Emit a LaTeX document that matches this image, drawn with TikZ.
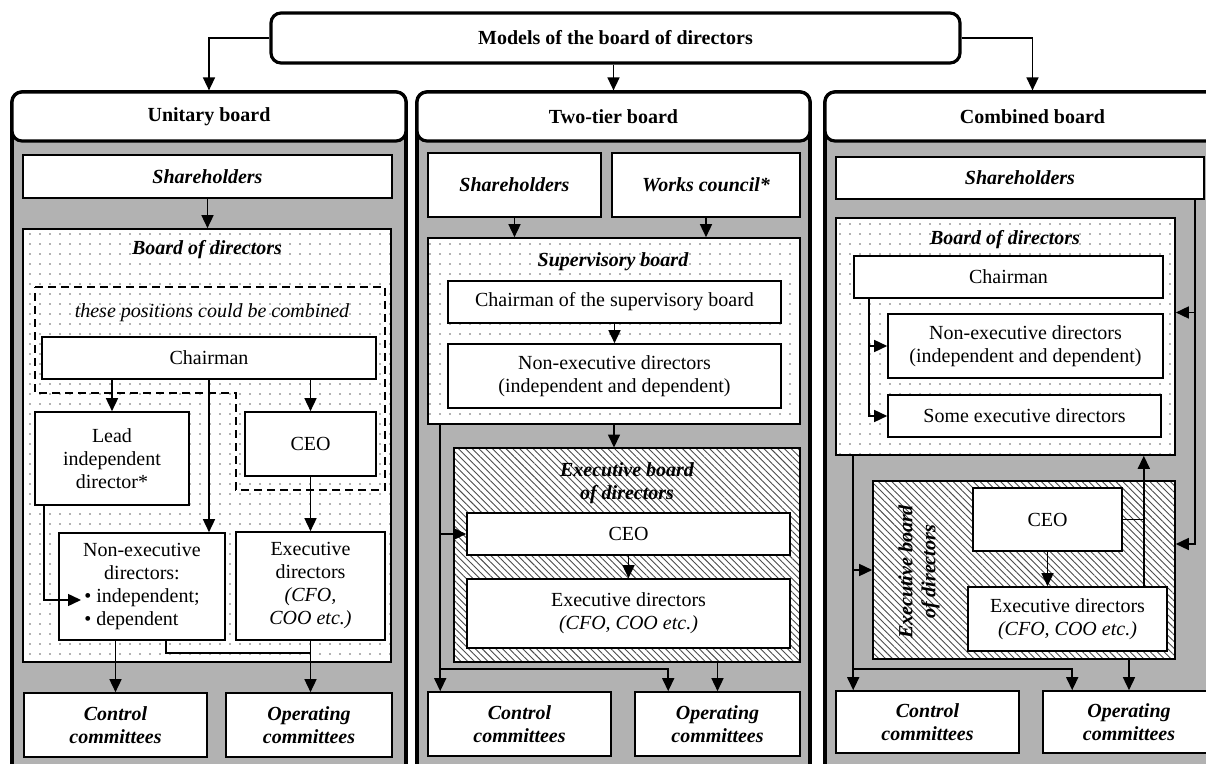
\documentclass[tikz,border=0pt]{standalone}
\usepackage{fontspec}
\setmainfont{Liberation Serif}
\usetikzlibrary{arrows.meta,patterns.meta}

\begin{document}
\begin{tikzpicture}[x=0.5pt, y=-0.5pt,
    every node/.style={font=\fontsize{10}{11.5}\selectfont},
    box/.style={draw, line width=0.8pt, fill=white, inner sep=0pt, align=center},
    ttl/.style={font=\fontsize{10}{11.5}\selectfont\bfseries\itshape, align=center},
    topbox/.style={draw, line width=1.6pt, rounded corners=5pt, fill=white, inner sep=0pt, font=\fontsize{10}{11.5}\selectfont\bfseries},
    colbox/.style={draw, line width=1.8pt, rounded corners=5pt, fill=black!30, inner sep=0pt},
    headbox/.style={draw, line width=1.6pt, rounded corners=5pt, fill=white, inner sep=0pt, font=\fontsize{10}{11.5}\selectfont\bfseries},
    dotbox/.style={draw, line width=0.8pt, inner sep=0pt, preaction={fill=white}, pattern={Dots[distance=5pt,radius=0.4pt]}, pattern color=black!60},
    hatchbox/.style={draw, line width=0.8pt, inner sep=0pt, preaction={fill=white}, pattern={Lines[angle=-45,distance=2.4pt,line width=0.45pt]}, pattern color=black!70},
    arr/.style={-{Triangle[length=6.5pt,width=6pt]}, line width=0.75pt},
    ln/.style={line width=0.75pt}]
  \useasboundingbox (0,0) rectangle (1206,764);
  \clip (0,0) rectangle (1206,764);

  \node[topbox, minimum width=344.5pt, minimum height=25pt] (models) at (615.5,38) {Models of the board of directors};

  % unitary board
  \node[colbox, minimum width=197pt, minimum height=349pt] (ucol) at (209,441) {};
  \node[headbox, minimum width=197pt, minimum height=24.5pt] (uhead) at (209,116.5) {Unitary board};
  \node[box, ttl, minimum width=184.5pt, minimum height=21.5pt] (ush) at (207.5,176.5) {Shareholders};
  \node[dotbox, minimum width=184pt, minimum height=216.5pt] (ubod) at (207,445.5) {};
  \node[ttl] (ubodt) at (207,250) {Board of directors};
  \draw[line width=0.8pt, dash pattern=on 4pt off 2.5pt] (35,287) -- (385,287) -- (385,490) -- (236,490) -- (236,393) -- (35,393) -- cycle;
  \node[font=\fontsize{10}{11.5}\selectfont\itshape] (ucomb) at (212,313) {these positions could be combined};
  \node[box, minimum width=167pt, minimum height=21pt] (uchair) at (209,358) {Chairman};
  \node[box, minimum width=77pt, minimum height=46.5pt] (ulead) at (112,458.5) {Lead\\independent\\director*};
  \node[box, minimum width=65.5pt, minimum height=32pt] (uceo) at (310.5,444) {CEO};
  \node[box, minimum width=83pt, minimum height=53.5pt] (unonex) at (142,586.5) {Non-executive\\directors:\\\textbullet\ independent;\\\textbullet\ dependent\hphantom{in;}};
  \node[box, minimum width=74.5pt, minimum height=54pt] (uexec) at (310.5,586) {Executive\\directors\\\textit{(CFO,}\\\textit{COO etc.)}};
  \node[box, ttl, minimum width=91.5pt, minimum height=32pt] (ucon) at (115.5,725) {Control\\committees};
  \node[box, ttl, minimum width=83pt, minimum height=32pt] (uop) at (309,725) {Operating\\committees};
  \coordinate (ubul) at (81,600);

  \draw[arr] (models.west) -| (uhead.north);
  \draw[arr] (ush.south) -- (ush.south |- ubod.north);
  \draw[arr] (ulead.north |- uchair.south) -- (ulead.north);
  \draw[arr] (uceo.north |- uchair.south) -- (uceo.north);
  \draw[arr] (uchair.south) -- (uchair.south |- unonex.north);
  \draw[arr] (uceo.south) -- (uceo.south |- uexec.north);
  \draw[arr] ([xshift=5pt]ulead.south west) |- (ubul);
  \draw[arr] (ucon.north |- unonex.south) -- (ucon.north);
  \draw[ln] ([xshift=12pt]unonex.south) -- ++(0,12) -| (uexec.south);
  \draw[arr] (uexec.south) -- (uexec.south |- uop.north);

  % two-tier board
  \node[colbox, minimum width=196.5pt, minimum height=349pt] (tcol) at (613.5,441) {};
  \node[headbox, minimum width=196.5pt, minimum height=24.5pt] (thead) at (613.5,116.5) {Two-tier board};
  \node[box, ttl, minimum width=86.5pt, minimum height=32pt] (tsh) at (514.5,185) {Shareholders};
  \node[box, ttl, minimum width=94pt, minimum height=32pt] (twc) at (706,185) {Works council*};
  \node[dotbox, minimum width=186pt, minimum height=93pt] (tsup) at (614,331) {};
  \node[ttl] (tsupt) at (613,262) {Supervisory board};
  \node[box, minimum width=166.5pt, minimum height=21pt] (tchair) at (614.5,302) {Chairman of the supervisory board};
  \node[box, minimum width=166.5pt, minimum height=32pt] (tnonex) at (614.5,376) {Non-executive directors\\(independent and dependent)};
  \node[hatchbox, minimum width=173pt, minimum height=107pt] (texb) at (627,555) {};
  \node[ttl] (texbt) at (627,483) {Executive board\\of directors};
  \node[box, minimum width=161.5pt, minimum height=21pt] (tceo) at (628.5,534) {CEO};
  \node[box, minimum width=161.5pt, minimum height=34.5pt] (texec) at (628.5,613.5) {Executive directors\\\textit{(CFO, COO etc.)}};
  \node[box, ttl, minimum width=91.5pt, minimum height=32pt] (tcon) at (519.5,724) {Control\\committees};
  \node[box, ttl, minimum width=82.5pt, minimum height=32pt] (top) at (717.5,724) {Operating\\committees};
  \coordinate (tlf) at ([xshift=6.5pt]tsup.south west);
  \coordinate (tj) at ([xshift=6.5pt,yshift=11pt]tcon.north west);

  \draw[arr] (models.south -| thead.north) -- (thead.north);
  \draw[arr] (tsh.south) -- (tsh.south |- tsup.north);
  \draw[arr] (twc.south) -- (twc.south |- tsup.north);
  \draw[arr] (tchair.south) -- (tchair.south |- tnonex.north);
  \draw[arr] (tsup.south) -- (tsup.south |- texb.north);
  \draw[arr] (tceo.south) -- (tceo.south |- texec.north);
  \draw[arr] (top.north |- texb.south) -- (top.north);
  \draw[arr] (tlf) -- (tlf |- tcon.north);
  \draw[arr] (tlf |- tceo.west) -- (tceo.west);
  \draw[arr] (tj) -| ([xshift=17pt]top.north west);

  % combined board
  \node[colbox, minimum width=207.5pt, minimum height=349pt] (ccol) at (1032.5,441) {};
  \node[headbox, minimum width=207.5pt, minimum height=24.5pt] (chead) at (1032.5,116.5) {Combined board};
  \node[box, ttl, minimum width=184pt, minimum height=21pt] (csh) at (1020,178) {Shareholders};
  \node[dotbox, minimum width=169.5pt, minimum height=118.5pt] (cbod) at (1005.5,336.5) {};
  \node[ttl] (cbodt) at (1005,240) {Board of directors};
  \node[box, minimum width=154.5pt, minimum height=21pt] (cchair) at (1008.5,277) {Chairman};
  \node[box, minimum width=137.5pt, minimum height=32pt] (cnonex) at (1025.5,346) {Non-executive directors\\(independent and dependent)};
  \node[box, minimum width=136.5pt, minimum height=21pt] (csome) at (1024.5,416) {Some executive directors};
  \node[hatchbox, minimum width=151pt, minimum height=89pt] (cexb) at (1024,570) {};
  \node[ttl, rotate=90] (cexbt) at (919,572) {Executive board\\of directors};
  \node[box, minimum width=74.5pt, minimum height=31.5pt] (cceo) at (1047.5,519.5) {CEO};
  \node[box, minimum width=99.5pt, minimum height=32pt] (cexec) at (1067.5,619) {Executive directors\\\textit{(CFO, COO etc.)}};
  \node[box, ttl, minimum width=91.5pt, minimum height=31pt] (ccon) at (927.5,722) {Control\\committees};
  \node[box, ttl, minimum width=86pt, minimum height=31pt] (cop) at (1129,722) {Operating\\committees};
  \coordinate (cch) at ([xshift=8pt]cchair.south west);
  \coordinate (crt) at ([xshift=-5pt]csh.south east);
  \coordinate (cbr) at ([yshift=12pt]cbod.east);
  \coordinate (cer) at ([yshift=13pt]cexb.east);
  \coordinate (cup) at ([xshift=-12pt]cexec.north east);
  \coordinate (clf) at ([xshift=9pt]cbod.south west);
  \coordinate (cj) at ([xshift=9pt,yshift=10.5pt]ccon.north west);

  \draw[arr] (models.east) -| (chead.north);
  \draw[arr] (cch) |- (csome.west);
  \draw[arr] (cch |- cnonex.west) -- (cnonex.west);
  \draw[arr] (crt) |- (cer);
  \draw[arr] (crt |- cbr) -- (cbr);
  \draw[arr] (cup) -- (cup |- cbod.south);
  \draw[ln] (cceo.east) -- (cceo.east -| cup);
  \draw[arr] (cceo.south) -- (cceo.south |- cexec.north);
  \draw[arr] (clf) -- (clf |- ccon.north);
  \draw[arr] (clf |- cexb.west) -- (cexb.west);
  \draw[arr] (cj) -| ([xshift=15pt]cop.north west);
  \draw[arr] (cop.north |- cexb.south) -- (cop.north);
\end{tikzpicture}
\end{document}
